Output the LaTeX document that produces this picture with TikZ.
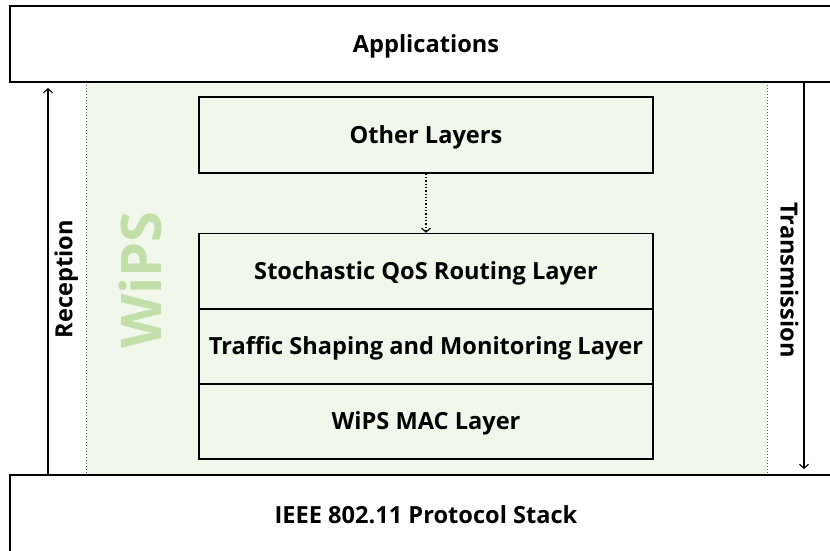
\documentclass[tikz,border=0pt]{standalone}
\usepackage{fontspec}
\setmainfont{Open Sans}
\usetikzlibrary{arrows.meta}
\definecolor{wipsfill}{HTML}{F2F7EC}
\definecolor{wipstext}{HTML}{C2DFA9}
\tikzset{
  txt/.style={font=\bfseries\fontsize{23.6}{26}\selectfont, text height=18pt, text depth=1.2pt},
  layerbox/.style={txt, draw=black, line width=1.4pt, minimum width=454pt, inner sep=0pt},
  bigbox/.style={draw=black, line width=1.4pt, inner sep=0pt},
  lbl/.style={txt},
  flow/.style={line width=1.3pt, -{Straight Barb[length=4pt,width=9pt,line width=1.1pt]}},
  sep/.style={draw=gray!70!black, line width=1pt, dotted}
}
\begin{document}
\begin{tikzpicture}[x=1pt,y=-1pt]
\useasboundingbox (0,0) rectangle (830,550);
% WiPS region
\fill[wipsfill] (86,82) rectangle (767,475);
\draw[sep] (86,82) -- (86,475);
\draw[sep] (767,82) -- (767,475);
% top and bottom boxes
\draw[bigbox] (10,6) rectangle (845,82);
\node[lbl] (apps) at (426,44) {Applications};
\draw[bigbox] (10,475) rectangle (845,560);
\node[lbl] (ieee) at (426,515) {IEEE 802.11 Protocol Stack};
\coordinate (appsL) at (48,82);
\coordinate (appsR) at (804,82);
\coordinate (ieeeL) at (48,475);
\coordinate (ieeeR) at (804,475);
% layers
\node[layerbox, minimum height=76pt] (other) at (426,135) {Other Layers};
\node[layerbox, minimum height=75.5pt] (sqos) at (426,271.25) {Stochastic QoS Routing Layer};
\node[layerbox, minimum height=75pt] (tsm) at (426,346.5) {Traffic Shaping and Monitoring Layer};
\node[layerbox, minimum height=75pt] (mac) at (426,421.5) {WiPS MAC Layer};
\draw[line width=1.3pt, dotted, -{Straight Barb[length=4pt,width=9pt,line width=1.1pt]}] (other.south) -- (sqos.north);
% side arrows
\draw[flow] (ieeeL) -- ([yshift=-6pt]appsL);
\draw[flow] (appsR) -- ([yshift=6pt]ieeeR);
\node[lbl, rotate=90] (rec) at (64,279) {Reception};
\node[lbl, rotate=-90] (tx) at (789,280) {Transmission};
\node[font=\bfseries\fontsize{56}{60}\selectfont, text=wipstext, rotate=90] (wips) at (140,280) {WiPS};
\end{tikzpicture}
\end{document}
